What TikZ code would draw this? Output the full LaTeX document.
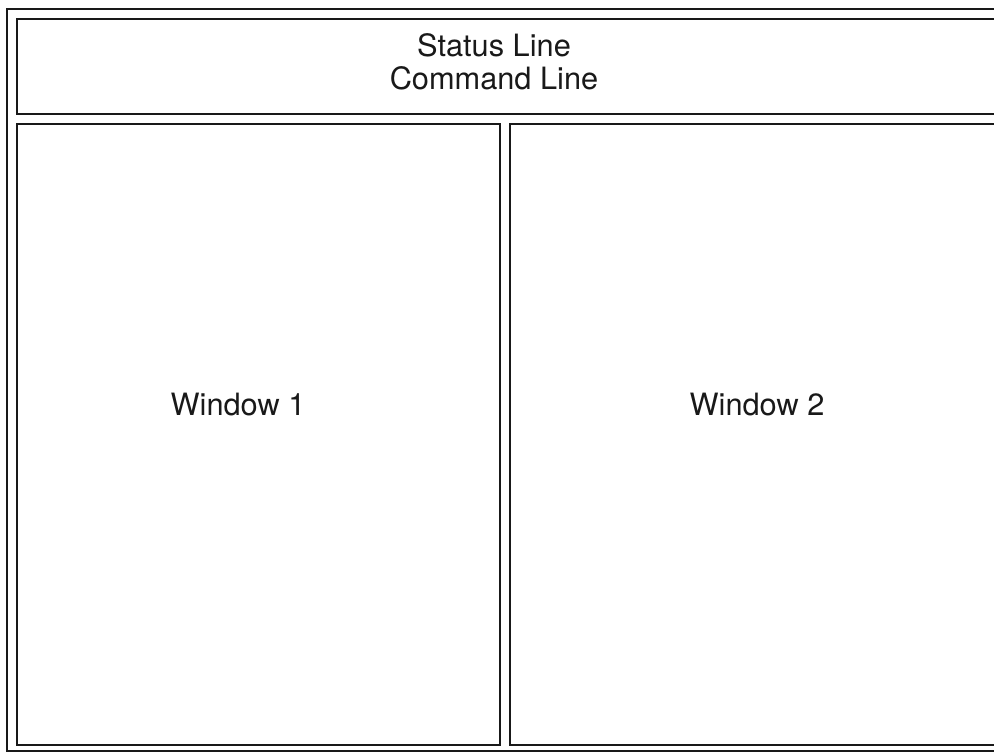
\documentclass[tikz,border=0pt]{standalone}
\usepackage{fontspec}
\setmainfont{TeX Gyre Heros}
\usepackage{tikz}
\usetikzlibrary{positioning}
\definecolor{inkgray}{RGB}{25,25,25}

\begin{document}
\begin{tikzpicture}[
  x=0.2mm, y=-0.2mm,
  frame/.style={draw=inkgray, line width=1.1pt},
  pane/.style={draw=inkgray, line width=1.4pt},
  txt/.style={font=\fontsize{17.5}{21}\selectfont, inner sep=1pt, text=inkgray}
]
  \clip (0,0) rectangle (994,756);
  \fill[white] (0,0) rectangle (994,756);
  % ---------------- panes ----------------
  \draw[frame] (7,9) rectangle (1020,751);
  \draw[pane] (17,19) rectangle (1010,114);
  \draw[pane] (17,124) rectangle (500,745);
  \draw[pane] (510,124) rectangle (1010,745);
  % ---------------- labels ----------------
  \node[txt] (status) at (494,45) {Status Line};
  \node[txt, below=3pt of status] (cmd) {Command Line};
  \node[txt] (win1) at (238,405) {Window 1};
  \node[txt] (win2) at (757,405) {Window 2};
\end{tikzpicture}
\end{document}
